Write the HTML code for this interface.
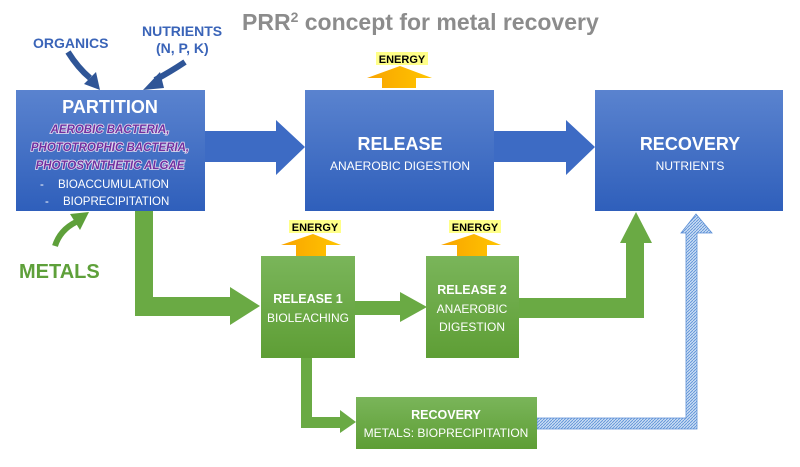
<!DOCTYPE html>
<html><head><meta charset="utf-8"><style>
html,body{margin:0;padding:0;background:#fff;}
svg{display:block;font-family:"Liberation Sans",sans-serif;}
</style></head><body>
<svg width="800" height="467" viewBox="0 0 800 467" xmlns="http://www.w3.org/2000/svg">
<defs>
<linearGradient id="bl" x1="0" y1="0" x2="0" y2="1"><stop offset="0" stop-color="#5a83cf"/><stop offset="1" stop-color="#2f5fbb"/></linearGradient>
<linearGradient id="gr" x1="0" y1="0" x2="0" y2="1"><stop offset="0" stop-color="#7ab55a"/><stop offset="1" stop-color="#5e9e35"/></linearGradient>
<linearGradient id="yl" x1="0" y1="0" x2="1" y2="0"><stop offset="0" stop-color="#f9a400"/><stop offset="1" stop-color="#ffc500"/></linearGradient>
<pattern id="hatch" width="3" height="3" patternUnits="userSpaceOnUse"><rect width="3" height="3" fill="#c8dcf3"/><path d="M0 3L3 0" stroke="#5b8fd6" stroke-width="0.8"/></pattern>
</defs>

<text x="242" y="30" font-size="23" font-weight="bold" fill="#8c8c8c">PRR<tspan font-size="14" dy="-8">2</tspan><tspan dy="8"> concept for metal recovery</tspan></text>

<!-- input arrows -->
<path d="M68 52 Q78 68 90 78" stroke="#2f5597" stroke-width="6" fill="none"/>
<polygon points="84,84 100,90 96,72" fill="#2f5597"/>
<path d="M185 62 Q170 72 155 80" stroke="#2f5597" stroke-width="6" fill="none"/>
<polygon points="160,72 143,90 164,88" fill="#2f5597"/>
<text x="33" y="48" font-size="14" font-weight="bold" fill="#3a64b8">ORGANICS</text>
<text x="142" y="36" font-size="14" font-weight="bold" fill="#3a64b8">NUTRIENTS</text>
<text x="156" y="53" font-size="14" font-weight="bold" fill="#3a64b8">(N, P, K)</text>

<path d="M55 246 Q60 230 76 222" stroke="#5ea03a" stroke-width="6" fill="none"/>
<polygon points="70,214 89,212 80,230" fill="#5ea03a"/>
<text x="19" y="278" font-size="20" font-weight="bold" fill="#5ea03a">METALS</text>

<!-- blue boxes -->
<rect x="16" y="90" width="189" height="121" fill="url(#bl)"/>
<rect x="305" y="90" width="189" height="121" fill="url(#bl)"/>
<rect x="595" y="90" width="188" height="121" fill="url(#bl)"/>

<!-- blue arrows -->
<polygon points="205,131 276,131 276,120 305,147 276,175 276,162 205,162" fill="#3d6bc4"/>
<polygon points="494,131 566,131 566,120 595,147 566,175 566,162 494,162" fill="#3d6bc4"/>

<text x="110" y="113" font-size="18" font-weight="bold" fill="#fff" text-anchor="middle">PARTITION</text>
<g font-size="11.5" font-weight="bold" font-style="italic" fill="#7030a0" text-anchor="middle" stroke="#e8e0f0" stroke-width="1.5" paint-order="stroke">
<text x="110" y="133">AEROBIC BACTERIA,</text>
<text x="110" y="151">PHOTOTROPHIC BACTERIA,</text>
<text x="110" y="169">PHOTOSYNTHETIC ALGAE</text>
</g>
<text x="40" y="188" font-size="11.5" fill="#fff">-</text><text x="58" y="188" font-size="11.5" fill="#fff">BIOACCUMULATION</text>
<text x="45" y="205" font-size="11.5" fill="#fff">-</text><text x="63" y="205" font-size="11.5" fill="#fff">BIOPRECIPITATION</text>

<text x="400" y="150" font-size="18" font-weight="bold" fill="#fff" text-anchor="middle">RELEASE</text>
<text x="400" y="170" font-size="12" fill="#fff" text-anchor="middle">ANAEROBIC DIGESTION</text>
<text x="690" y="150" font-size="18" font-weight="bold" fill="#fff" text-anchor="middle">RECOVERY</text>
<text x="690" y="170" font-size="12" fill="#fff" text-anchor="middle">NUTRIENTS</text>

<!-- energy arrows -->
<g>
<rect x="376" y="52" width="52" height="13" fill="#ffff88"/>
<text x="402" y="63" font-size="11" font-weight="bold" fill="#000" text-anchor="middle">ENERGY</text>
<polygon points="382,88 382,78 367,78 400,66 432,78 416,78 416,88" fill="url(#yl)"/>
<rect x="289" y="220" width="52" height="13" fill="#ffff88"/>
<text x="315" y="231" font-size="11" font-weight="bold" fill="#000" text-anchor="middle">ENERGY</text>
<polygon points="296,256 296,245 281,245 313,234 341,245 326,245 326,256" fill="url(#yl)"/>
<rect x="449" y="220" width="52" height="13" fill="#ffff88"/>
<text x="475" y="231" font-size="11" font-weight="bold" fill="#000" text-anchor="middle">ENERGY</text>
<polygon points="457,256 457,245 441,245 474,234 501,245 487,245 487,256" fill="url(#yl)"/>
</g>

<!-- green connectors -->
<polygon points="135,211 153,211 153,297 230,297 230,287 260,306 230,325 230,316 135,316" fill="#6aaa44"/>
<polygon points="355,301 400,301 400,292 427,307 400,322 400,315 355,315" fill="#6aaa44"/>
<polygon points="519,298 626,298 626,243 620,243 636,212 652,243 644,243 644,318 519,318" fill="#6aaa44"/>
<polygon points="301,358 312,358 312,417 340,417 340,410 356,422 340,433 340,428 301,428" fill="#6aaa44"/>

<!-- blue hatched -->
<polygon points="537,418 686,418 686,233 681,233 696,214 712,233 697,233 697,429 537,429" fill="url(#hatch)" stroke="#5b8fd6" stroke-width="0.8"/>

<!-- green boxes -->
<rect x="261" y="256" width="94" height="102" fill="url(#gr)"/>
<rect x="426" y="256" width="93" height="102" fill="url(#gr)"/>
<rect x="356" y="397" width="181" height="52" fill="url(#gr)"/>

<text x="308" y="303" font-size="12.5" font-weight="bold" fill="#fff" text-anchor="middle">RELEASE 1</text>
<text x="308" y="322" font-size="12" fill="#fff" text-anchor="middle">BIOLEACHING</text>
<text x="472" y="294" font-size="12.5" font-weight="bold" fill="#fff" text-anchor="middle">RELEASE 2</text>
<text x="472" y="313" font-size="12" fill="#fff" text-anchor="middle">ANAEROBIC</text>
<text x="472" y="331" font-size="12" fill="#fff" text-anchor="middle">DIGESTION</text>
<text x="446" y="419" font-size="12.5" font-weight="bold" fill="#fff" text-anchor="middle">RECOVERY</text>
<text x="446" y="437" font-size="12" fill="#fff" text-anchor="middle">METALS: BIOPRECIPITATION</text>
</svg>
</body></html>
